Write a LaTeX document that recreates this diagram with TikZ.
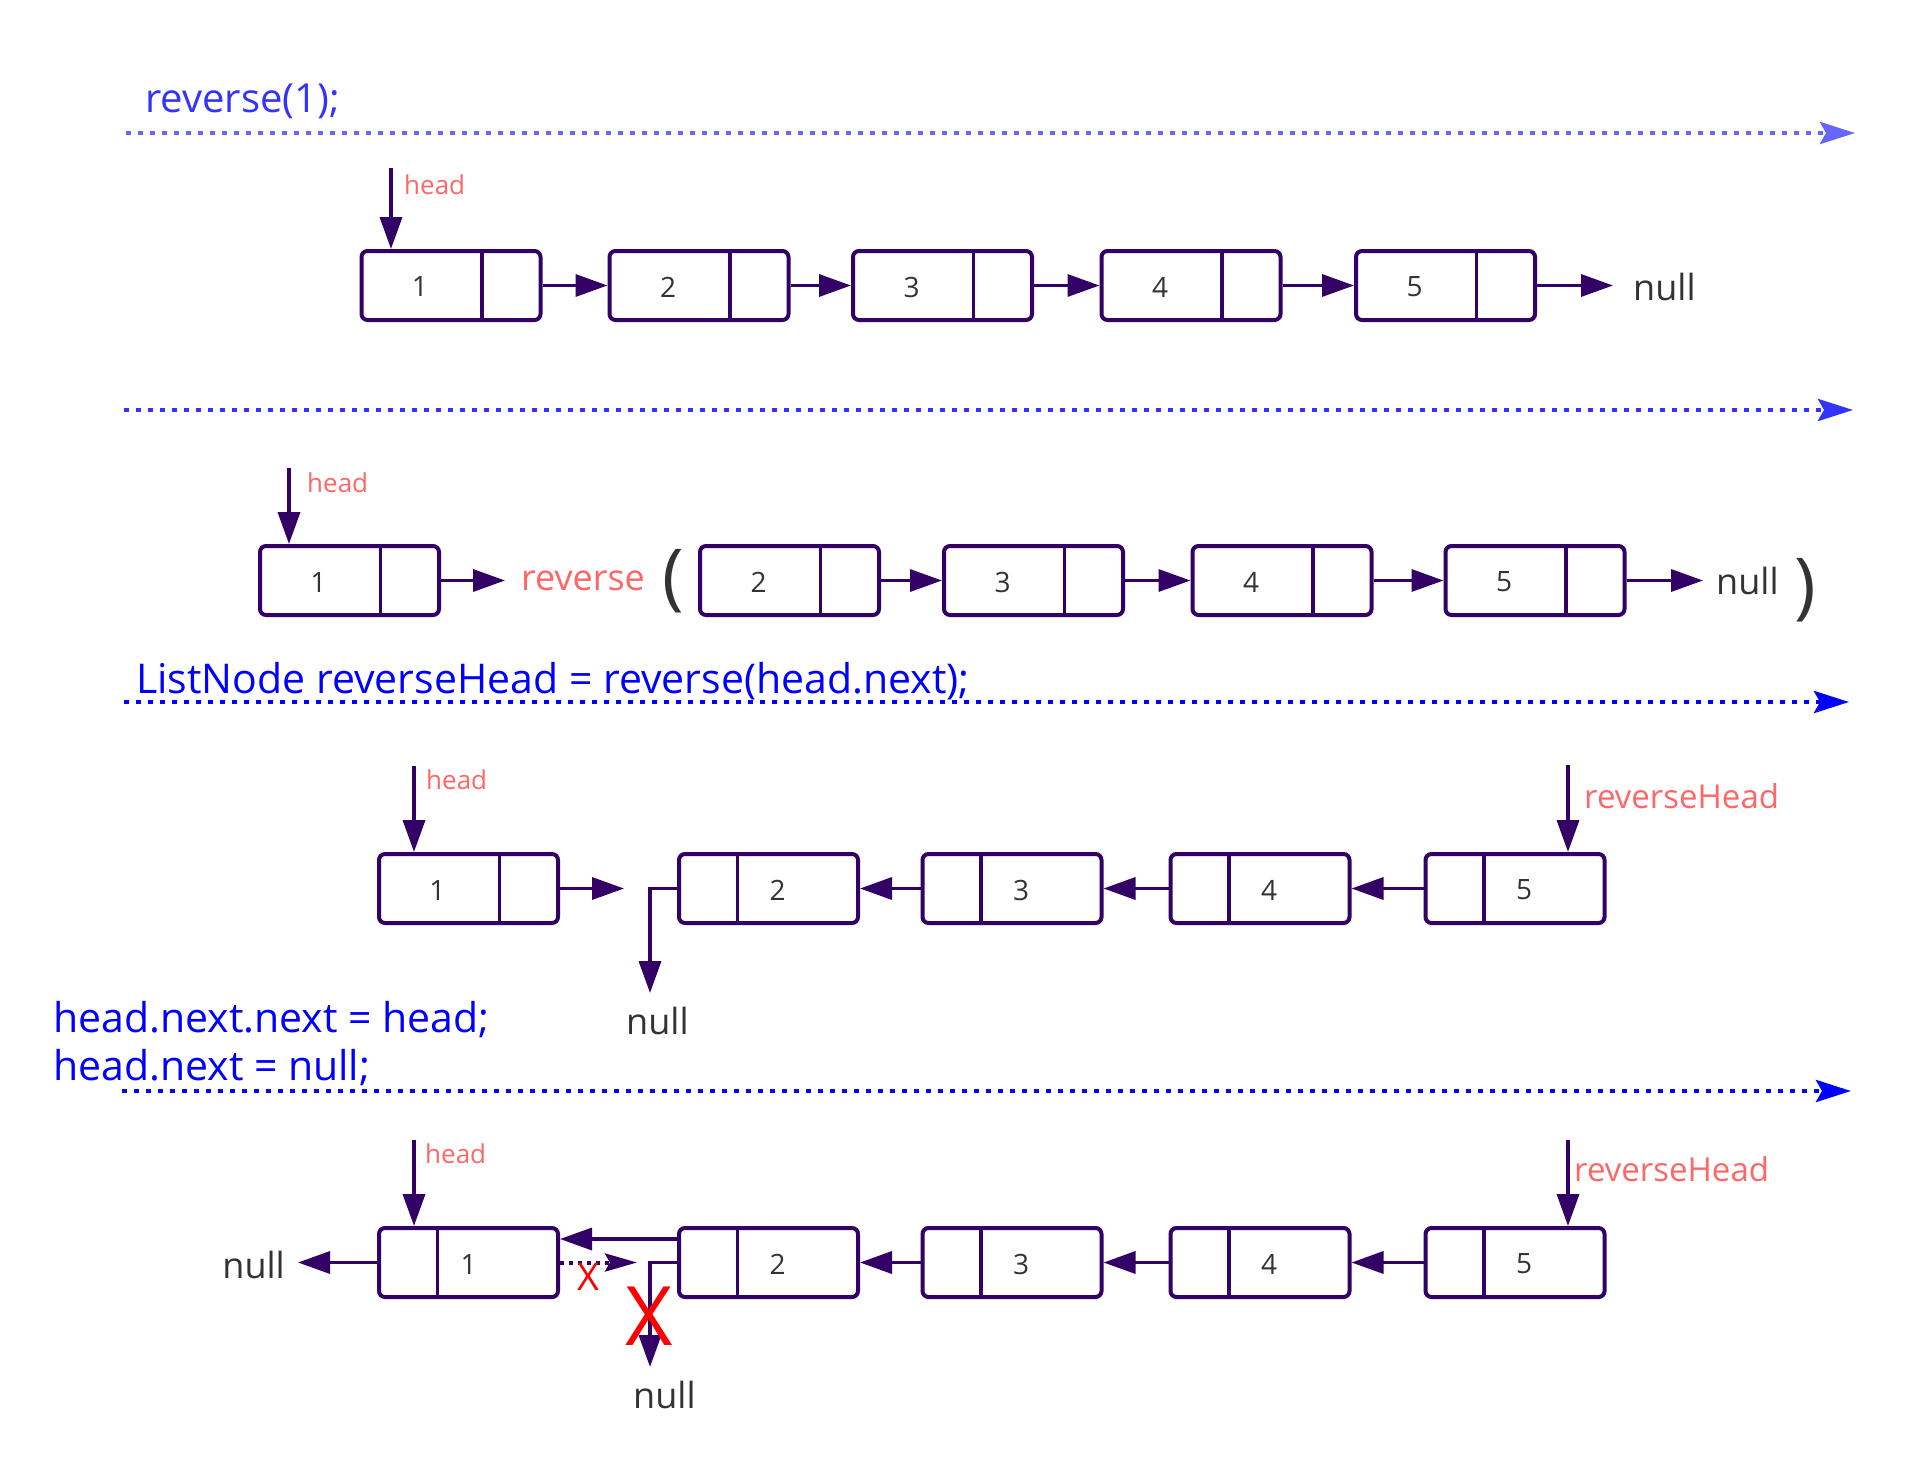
\documentclass[tikz,border=0pt]{standalone}
\usepackage{fontspec}
\setmainfont{Open Sans}
\usetikzlibrary{arrows.meta}
\definecolor{pur}{HTML}{330066}
\definecolor{salmon}{HTML}{FF6666}
\definecolor{txtgray}{HTML}{333333}
\definecolor{lblue}{HTML}{6666FF}
\definecolor{mblue}{HTML}{3333FF}
\definecolor{dblue}{HTML}{0000FF}
\newcommand\fsz[1]{\fontsize{#1}{#1}\selectfont}
\tikzset{
  lbox/.style={draw=pur, line width=4pt, rounded corners=6pt, minimum width=179pt, minimum height=69pt, inner sep=0pt},
  divider/.style={draw=pur, line width=3.5pt},
  ptr/.style={draw=pur, line width=3.5pt, -{Triangle[length=32pt,width=22pt]}},
  dptr/.style={draw=pur, line width=4pt, dash pattern=on 4pt off 5pt, -{Stealth[length=32pt,width=18pt,inset=5pt]}},
  sepline/.style={line width=4.5pt, dash pattern=on 5pt off 7pt, -{Stealth[length=35pt,width=22pt,inset=6pt]}},
  digit/.style={font=\fsz{28}, text=txtgray, inner sep=0pt},
  nulltxt/.style={font=\fsz{36}, text=txtgray, inner sep=0pt},
  redlbl/.style={text=salmon, inner sep=0pt, anchor=base west},
  code/.style={text=dblue, font=\fsz{41}, inner sep=0pt, anchor=base west},
  paren/.style={font=\fsz{73}, text=txtgray, inner sep=0pt},
}
\begin{document}
\begin{tikzpicture}[x=1pt, y=-1pt]
\useasboundingbox (0,0) rectangle (1931,1483);

% ---------- separators ----------
\coordinate (s1a) at (126,133);  \coordinate (s1b) at (1855,133);
\coordinate (s2a) at (124,410);  \coordinate (s2b) at (1853,410);
\coordinate (s3a) at (124,702);  \coordinate (s3b) at (1849,702);
\coordinate (s4a) at (122,1091); \coordinate (s4b) at (1851,1091);
\draw[sepline, lblue] (s1a) -- (s1b);
\draw[sepline, mblue] (s2a) -- (s2b);
\draw[sepline, dblue] (s3a) -- (s3b);
\draw[sepline, dblue] (s4a) -- (s4b);

\node[text=mblue, font=\fsz{40}, inner sep=0pt, anchor=base west] (t1) at (145,112) {reverse(1);};
\node[code] (t2) at (136,693) {ListNode reverseHead = reverse(head.next);};
\node[code] (t3) at (53,1032) {head.next.next = head;};
\node[code] (t4) at (53,1080) {head.next = null;};

% ---------- row 1 ----------
\foreach \n/\x in {1/451,2/699,3/942.5,4/1191,5/1445.5}{
  \node[lbox] (r1b\n) at (\x,285.5) {};
  \draw[divider] ([xshift=31pt]r1b\n.north) -- ([xshift=31pt]r1b\n.south);
  \node[digit] (r1d\n) at (\x-31,287) {\n};
}
\draw[ptr] (r1b1.east) -- (r1b2.west);
\draw[ptr] (r1b2.east) -- (r1b3.west);
\draw[ptr] (r1b3.east) -- (r1b4.west);
\draw[ptr] (r1b4.east) -- (r1b5.west);
\node[nulltxt, anchor=west] (n1) at (1633,287) {null};
\draw[ptr, shorten >=20pt] (r1b5.east) -- (r1b5.east -| n1.west);
\coordinate (h1) at (391,168);
\draw[ptr] (h1) -- (h1 |- r1b1.north);
\node[redlbl, font=\fsz{26}] (hl1) at (404,194) {head};

% ---------- row 2 ----------
\foreach \n/\x in {1/349.5,2/789.5,3/1033.5,4/1282,5/1535}{
  \node[lbox] (r2b\n) at (\x,580.5) {};
  \draw[divider] ([xshift=31pt]r2b\n.north) -- ([xshift=31pt]r2b\n.south);
  \node[digit] (r2d\n) at (\x-31,582) {\n};
}
\node[text=salmon, font=\fsz{36}, inner sep=0pt, anchor=west] (rev) at (521,581) {reverse};
\draw[ptr, shorten >=16pt] (r2b1.east) -- (r2b1.east -| rev.west);
\node[paren] (lp) at (673,581.5) {(};
\node[paren] (rp) at (1805,590) {)};
\draw[ptr] (r2b2.east) -- (r2b3.west);
\draw[ptr] (r2b3.east) -- (r2b4.west);
\draw[ptr] (r2b4.east) -- (r2b5.west);
\node[nulltxt, anchor=west] (n2) at (1716,581) {null};
\draw[ptr, shorten >=13pt] (r2b5.east) -- (r2b5.east -| n2.west);
\coordinate (h2) at (289,468);
\draw[ptr] (h2) -- (h2 |- r2b1.north);
\node[redlbl, font=\fsz{26}] (hl2) at (307,492) {head};

% ---------- row 3 ----------
\node[lbox] (r3b1) at (468.5,888.5) {};
\draw[divider] ([xshift=31pt]r3b1.north) -- ([xshift=31pt]r3b1.south);
\node[digit] (r3d1) at (437.5,890) {1};
\foreach \n/\x in {2/768.5,3/1012,4/1260,5/1515}{
  \node[lbox] (r3b\n) at (\x,888.5) {};
  \draw[divider] ([xshift=-31pt]r3b\n.north) -- ([xshift=-31pt]r3b\n.south);
  \node[digit] (r3d\n) at (\x+9,890) {\n};
}
\coordinate (r3e) at (624,888.5);
\draw[ptr] (r3b1.east) -- (r3e);
\coordinate (r3n) at (650,993);
\draw[ptr] (r3b2.west) -| (r3n);
\node[nulltxt, anchor=base west] (n3) at (626,1034) {null};
\draw[ptr] (r3b3.west) -- (r3b2.east);
\draw[ptr] (r3b4.west) -- (r3b3.east);
\draw[ptr] (r3b5.west) -- (r3b4.east);
\coordinate (h3) at (414,766);
\draw[ptr] (h3) -- (h3 |- r3b1.north);
\node[redlbl, font=\fsz{26}] (hl3) at (426,789) {head};
\coordinate (rh3) at (1568,765);
\draw[ptr] (rh3) -- (rh3 |- r3b5.north);
\node[redlbl, font=\fsz{33}] (rhl3) at (1584,808) {reverseHead};

% ---------- row 4 ----------
\node[lbox] (r4b1) at (468.5,1262.5) {};
\draw[divider] ([xshift=-31pt]r4b1.north) -- ([xshift=-31pt]r4b1.south);
\node[digit] (r4d1) at (468.5,1264) {1};
\foreach \n/\x in {2/768.5,3/1012,4/1260,5/1515}{
  \node[lbox] (r4b\n) at (\x,1262.5) {};
  \draw[divider] ([xshift=-31pt]r4b\n.north) -- ([xshift=-31pt]r4b\n.south);
  \node[digit] (r4d\n) at (\x+9,1264) {\n};
}
\node[nulltxt, anchor=base east] (n4l) at (285,1278) {null};
\draw[ptr, shorten >=13pt] (r4b1.west) -- (r4b1.west -| n4l.east);
\draw[ptr] ([yshift=23.5pt]r4b2.west) -- ([yshift=23.5pt]r4b1.east);
\coordinate (r4e) at (637,1262.5);
\draw[dptr] (r4b1.east) -- (r4e);
\coordinate (r4n) at (650,1367);
\draw[ptr] (r4b2.west) -| (r4n);
\node[nulltxt, anchor=base west] (n4b) at (633,1408) {null};
\draw[ptr] (r4b3.west) -- (r4b2.east);
\draw[ptr] (r4b4.west) -- (r4b3.east);
\draw[ptr] (r4b5.west) -- (r4b4.east);
\node[text=red, font=\fsz{38}, inner sep=0pt] (x1) at (588,1277) {X};
\node[text=red, font=\fsz{82}, inner sep=0pt] (x2) at (649,1316) {X};
\coordinate (h4) at (414,1140);
\draw[ptr] (h4) -- (h4 |- r4b1.north);
\node[redlbl, font=\fsz{26}] (hl4) at (425,1163) {head};
\coordinate (rh4) at (1568,1140);
\draw[ptr] (rh4) -- (rh4 |- r4b5.north);
\node[redlbl, font=\fsz{33}] (rhl4) at (1574,1181) {reverseHead};
\end{tikzpicture}
\end{document}
